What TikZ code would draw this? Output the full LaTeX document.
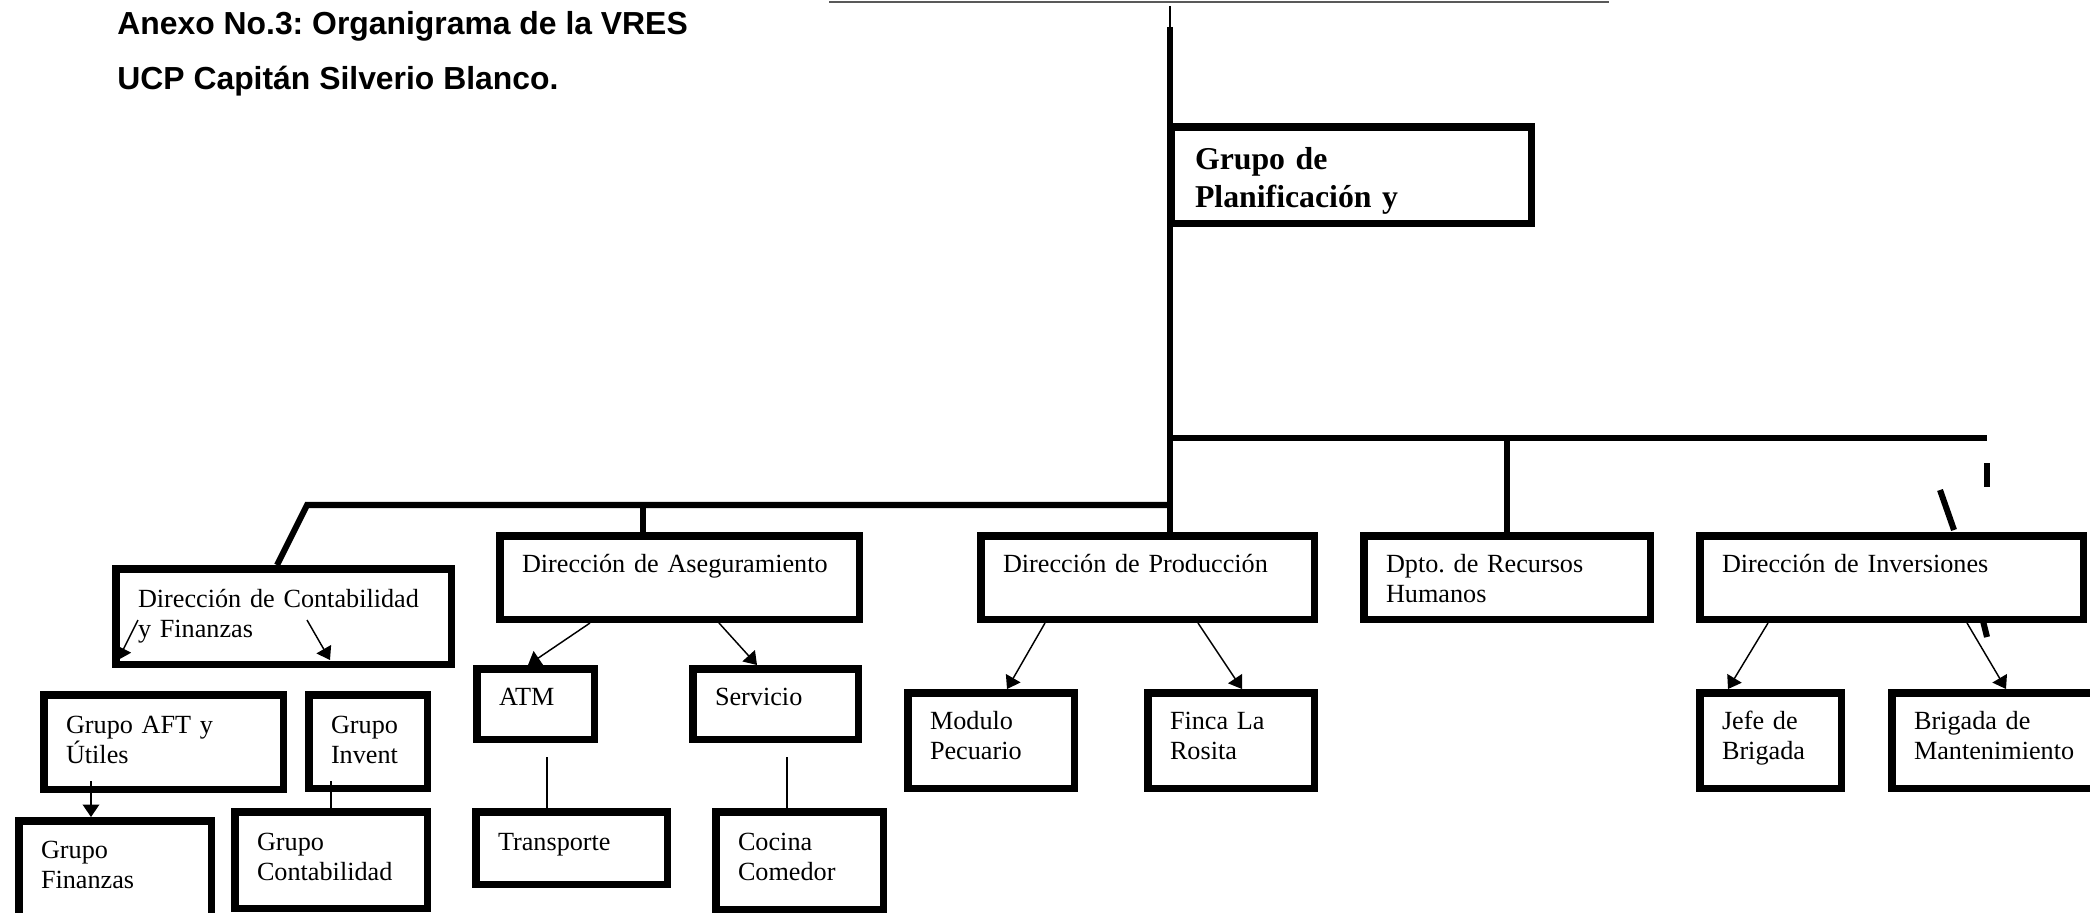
\documentclass[tikz,border=0pt]{standalone}
\usepackage{fontspec}
\setmainfont{Liberation Serif}
\newfontfamily\arial{Liberation Sans}
\usetikzlibrary{arrows.meta}
\usetikzlibrary{calc}
\frenchspacing

\newdimen\px
\px=0.48pt

\begin{document}
\begin{tikzpicture}[x=0.48pt,y=-0.48pt,
    caja/.style n args={3}{draw, line width=3.6pt, anchor=north west,
        inner xsep=22.25\px, inner ysep=0pt, align=left,
        text width=#1\px, text height=#2\px, text depth=#3\px,
        font=\fontsize{12.58}{14.4}\selectfont},
    titulo/.style={inner sep=0pt, anchor=base west, font=\arial\bfseries\fontsize{15.3}{18}\selectfont},
    linea/.style={line width=2.9pt},
    fina/.style={line width=0.7pt},
    flecha/.style={line width=0.7pt, -{Triangle[width=8pt,length=6pt]}}]
    \clip (0,0) rectangle (2090,912);

% Titulo
    \node[titulo] (tit1) at (117,35) {Anexo No.3: Organigrama de la VRES};
    \node[titulo] (tit2) at (117,90) {UCP Capitán Silverio Blanco.};

% Grupo de Planificacion
    \node[caja={312}{43.25}{53.25}, inner xsep=24.25\px,
        font=\bfseries\fontsize{15.26}{17.76}\selectfont] (plan) at (1167,123) {Grupo de\\Planificación y};

% Direcciones
    \node[caja={291}{38.25}{57.25}] (dcf) at (112,565) {Dirección de Contabilidad\\y Finanzas};
    \node[caja={315}{36.25}{47.25}] (da) at (496,532) {Dirección de Aseguramiento};
    \node[caja={289}{36.25}{47.25}] (dp) at (977,532) {Dirección de Producción};
    \node[caja={242}{36.25}{47.25}] (rh) at (1360,532) {Dpto. de Recursos\\Humanos};
    \node[caja={339}{36.25}{47.25}] (di) at (1696,532) {Dirección de Inversiones};

% Grupos y areas
    \node[caja={195}{38.25}{56.25}] (aft) at (40,691) {Grupo AFT y\\Útiles};
    \node[caja={74}{38.25}{55.25}] (inv) at (305,691) {Grupo\\Invent};
    \node[caja={148}{37.25}{88.25}] (fin) at (15,817) {Grupo\\Finanzas};
    \node[caja={148}{38.25}{58.25}] (cont) at (231,808) {Grupo\\Contabilidad};
    \node[caja={73}{36.25}{34.25}] (atm) at (473,665) {ATM};
    \node[caja={121}{36.25}{34.25}] (serv) at (689,665) {Servicio};
    \node[caja={147}{38.25}{34.25}] (trans) at (472,808) {Transporte};
    \node[caja={123}{38.25}{59.25}] (coc) at (712,808) {Cocina\\Comedor};
    \node[caja={122}{36.25}{59.25}] (mod) at (904,689) {Modulo\\Pecuario};
    \node[caja={122}{36.25}{59.25}] (finca) at (1144,689) {Finca La\\Rosita};
    \node[caja={97}{36.25}{59.25}] (jefe) at (1696,689) {Jefe de\\Brigada};
    \node[caja={180}{36.25}{59.25}] (brig) at (1888,689) {Brigada de\\Mantenimiento};

% Lineas principales
    \coordinate (tope) at (1170,6);
    \coordinate (cima) at (1170,27);
    \coordinate (nudo1) at (1170,438);
    \coordinate (nudo2) at (1170,505);
    \coordinate (fin1) at (1987,438);
    \coordinate (esq) at (307,505);
    \coordinate (pda) at (643,505);

    \draw[gray!70!black, line width=1pt] (829,2) -- (1609,2);
    \draw[fina] (tope) -- (cima);
    \draw[linea] (cima) -- (cima |- dp.north);
    \draw[linea] (nudo1) -- (fin1);
    \draw[linea] (nudo1 -| rh.north) -- (rh.north);
    \draw[linea] (nudo2) -- (esq) -- ($(dcf.north west)+(165,0)$);
    \draw[linea] (pda) -- (pda |- da.north);

% Trazos sueltos a la derecha
    \draw[linea] (1987,463) -- (1987,487);
    \draw[linea] (1940,490) -- (1954,530);
    \draw[linea] (1982,617) -- (1987,637);

% Flechas
    \draw[flecha] ($(dcf.south west)+(26,-48)$) -- ($(dcf.south west)+(6,-8)$);
    \draw[flecha] ($(dcf.south west)+(195,-48)$) -- ($(dcf.south west)+(218,-8)$);
    \draw[flecha] ($(da.south west)+(94,0)$) -- ($(atm.north west)+(55,0)$);
    \draw[flecha] ($(da.south west)+(223,0)$) -- ($(serv.north west)+(68,0)$);
    \draw[flecha] ($(dp.south west)+(68,0)$) -- ($(mod.north west)+(103,0)$);
    \draw[flecha] ($(dp.south west)+(221,0)$) -- ($(finca.north west)+(98,0)$);
    \draw[flecha] ($(di.south west)+(72,0)$) -- ($(jefe.north west)+(32,0)$);
    \draw[flecha] ($(di.south west)+(271,0)$) -- ($(brig.north west)+(118,0)$);
    \draw[flecha] ($(aft.south west)+(51,-12)$) -- ($(fin.north west)+(76,0)$);
    \draw[fina] ($(inv.south west)+(26,-11)$) -- ($(cont.north west)+(100,0)$);
    \draw[fina] ($(atm.south west)+(74,14)$) -- ($(trans.north west)+(75,0)$);
    \draw[fina] ($(serv.south west)+(98,14)$) -- ($(coc.north west)+(75,0)$);
\end{tikzpicture}
\end{document}
